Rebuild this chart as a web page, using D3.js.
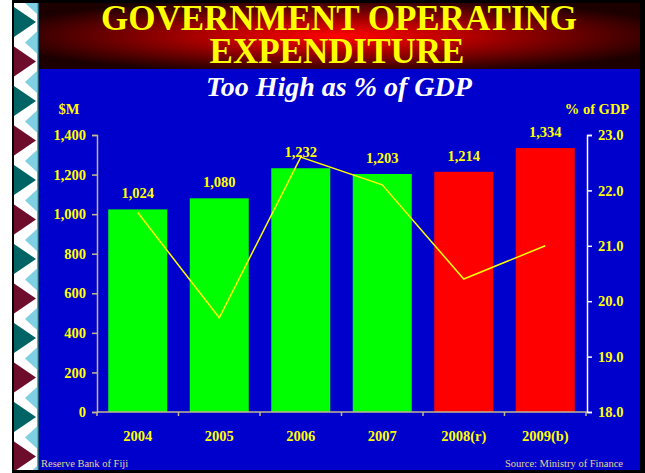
<!DOCTYPE html>
<html>
<head>
<meta charset="utf-8">
<script src="https://cdn.jsdelivr.net/npm/d3@7"></script>
<style>
  html, body { margin: 0; padding: 0; background: #ffffff; }
  svg { display: block; }
  text { font-family: "Liberation Serif", "Times New Roman", serif; }
</style>
</head>
<body>
<svg id="chart" width="645" height="473"></svg>
<script>
// Fiscal years and government operating expenditure ($M)
const years = ["2004", "2005", "2006", "2007", "2008(r)", "2009(b)"];
const expenditure = [1024, 1080, 1232, 1203, 1214, 1334];
// Expenditure as a share of GDP (%)
const pctGdp = [21.6, 19.7, 22.6, 22.1, 20.4, 21.0];
// Actual years in green, revised/budget years in red
const barKind = ["actual", "actual", "actual", "actual", "estimate", "estimate"];
const leftTicks = [0, 200, 400, 600, 800, 1000, 1200, 1400];
const rightTicks = [18, 19, 20, 21, 22, 23];

const svg = d3.select("#chart");
const W = 645, H = 473;

// ---------- frame ----------
svg.append("rect").attr("x", 12).attr("y", 0).attr("width", W - 12).attr("height", H).attr("fill", "#000");

// decorative strip on the left
const strip = svg.append("g");
strip.append("rect").attr("x", 14).attr("y", 3).attr("width", 23).attr("height", H - 6).attr("fill", "#ffffff");
strip.append("clipPath").attr("id", "stripClip")
  .append("rect").attr("x", 14).attr("y", 3).attr("width", 24).attr("height", H - 6);
const sg = strip.append("g").attr("clip-path", "url(#stripClip)");
for (let i = -1; i < 13; i++) {
  const y0 = 7 + i * 39.5;
  // light blue triangles pointing left, between the dark ones
  sg.append("path")
    .attr("d", `M37,${y0 - 15} L25,${y0 - 4} L37,${y0 + 7} Z`)
    .attr("fill", "#7fd0e2");
  // dark triangles pointing right
  sg.append("path")
    .attr("d", `M14,${y0} L36,${y0 + 15} L14,${y0 + 30} Z`)
    .attr("fill", i % 2 === 0 ? "#006464" : "#6e0c2c");
}
svg.append("rect").attr("x", 37).attr("y", 3).attr("width", 1.5).attr("height", H - 6).attr("fill", "#3fb8e0");

// title band with radial glow
const defs = svg.append("defs");
const grad = defs.append("radialGradient").attr("id", "titleGlow")
  .attr("cx", 0.5).attr("cy", 0.5).attr("r", 0.58);
grad.append("stop").attr("offset", "0").attr("stop-color", "#ff0000");
grad.append("stop").attr("offset", "0.35").attr("stop-color", "#b80000");
grad.append("stop").attr("offset", "0.75").attr("stop-color", "#580000");
grad.append("stop").attr("offset", "1").attr("stop-color", "#1c0000");
svg.append("rect").attr("x", 39).attr("y", 3).attr("width", 601).attr("height", 66).attr("fill", "url(#titleGlow)");

// blue chart panel
svg.append("rect").attr("x", 39).attr("y", 69).attr("width", 601).attr("height", 401).attr("fill", "#0000cc");

// ---------- titles ----------
const title = svg.append("text").attr("text-anchor", "middle")
  .attr("font-size", 35).attr("font-weight", "bold").attr("fill", "#ffff00");
title.append("tspan").attr("x", 339).attr("y", 30).text("GOVERNMENT OPERATING");
title.append("tspan").attr("x", 337).attr("y", 63).text("EXPENDITURE");
svg.append("text").attr("x", 339).attr("y", 96).attr("text-anchor", "middle")
  .attr("font-size", 28).attr("font-weight", "bold").attr("font-style", "italic").attr("fill", "#ffffff")
  .text("Too High as % of GDP");

// ---------- scales ----------
const x = d3.scaleBand().domain(years).range([97, 586]).paddingInner(0.276).paddingOuter(0.138);
const yL = d3.scaleLinear().domain([0, 1400]).range([412, 135]);
const yR = d3.scaleLinear().domain([18, 23]).range([412, 135]);

const axisColor = "#c0b890";
const labelColor = "#ffff00";
const fs = 14.5;

// bars
svg.append("g").selectAll("rect").data(years).join("rect")
  .attr("x", d => x(d))
  .attr("width", x.bandwidth())
  .attr("y", (d, i) => yL(expenditure[i]))
  .attr("height", (d, i) => yL(0) - yL(expenditure[i]))
  .attr("fill", (d, i) => barKind[i] === "actual" ? "#00ff00" : "#ff0000");

// left axis
const gL = svg.append("g").attr("transform", "translate(97,0)")
  .call(d3.axisLeft(yL).tickValues(leftTicks).tickSize(5).tickPadding(6).tickFormat(d3.format(",")));
gL.select(".domain").attr("stroke", axisColor).attr("stroke-width", 1.5);
gL.selectAll(".tick line").attr("stroke", axisColor).attr("stroke-width", 1.5);
gL.selectAll(".tick text").attr("fill", labelColor).attr("font-size", fs).attr("font-weight", "bold")
  .attr("font-family", "Liberation Serif, serif");

// right axis
const gR = svg.append("g").attr("transform", "translate(587,0)")
  .call(d3.axisRight(yR).tickValues(rightTicks).tickSize(5).tickPadding(6).tickFormat(d3.format(".1f")));
gR.select(".domain").attr("stroke", "#ffffff").attr("stroke-width", 1.5);
gR.selectAll(".tick line").attr("stroke", "#ffffff").attr("stroke-width", 1.5);
gR.selectAll(".tick text").attr("fill", labelColor).attr("font-size", fs).attr("font-weight", "bold")
  .attr("font-family", "Liberation Serif, serif");

// bottom axis: line with ticks at category boundaries
const gB = svg.append("g").attr("transform", "translate(0,412)");
gB.append("line").attr("x1", 97).attr("x2", 587).attr("stroke", axisColor).attr("stroke-width", 1.5);
const bounds = d3.range(years.length + 1).map(i => x.range()[0] + i * x.step());
gB.selectAll("line.tk").data(bounds).join("line").attr("class", "tk")
  .attr("x1", d => d).attr("x2", d => d).attr("y1", 0).attr("y2", 4)
  .attr("stroke", axisColor).attr("stroke-width", 1.5);
gB.selectAll("text").data(years).join("text")
  .attr("x", d => x(d) + x.bandwidth() / 2).attr("y", 29)
  .attr("text-anchor", "middle").attr("fill", labelColor)
  .attr("font-size", fs).attr("font-weight", "bold").text(d => d);

// axis titles
svg.append("text").attr("x", 69).attr("y", 114).attr("text-anchor", "middle")
  .attr("fill", labelColor).attr("font-size", fs).attr("font-weight", "bold").text("$M");
svg.append("text").attr("x", 597).attr("y", 114).attr("text-anchor", "middle")
  .attr("fill", labelColor).attr("font-size", fs).attr("font-weight", "bold").text("% of GDP");

// bar value labels
svg.append("g").selectAll("text").data(years).join("text")
  .attr("x", d => x(d) + x.bandwidth() / 2)
  .attr("y", (d, i) => yL(expenditure[i]) - 11)
  .attr("text-anchor", "middle").attr("fill", labelColor)
  .attr("font-size", fs).attr("font-weight", "bold")
  .text((d, i) => d3.format(",")(expenditure[i]));

// % of GDP line
const line = d3.line()
  .x((d, i) => x(years[i]) + x.bandwidth() / 2)
  .y(d => yR(d));
svg.append("path").datum(pctGdp).attr("d", line)
  .attr("fill", "none").attr("stroke", "#ffff00").attr("stroke-width", 1.5);

// footer
svg.append("text").attr("x", 41).attr("y", 467).attr("fill", "#e0d890")
  .attr("font-size", 10.5).text("Reserve Bank of Fiji");
svg.append("text").attr("x", 623).attr("y", 467).attr("text-anchor", "end").attr("fill", "#e0d890")
  .attr("font-size", 10.5).text("Source: Ministry of Finance");
</script>
</body>
</html>
